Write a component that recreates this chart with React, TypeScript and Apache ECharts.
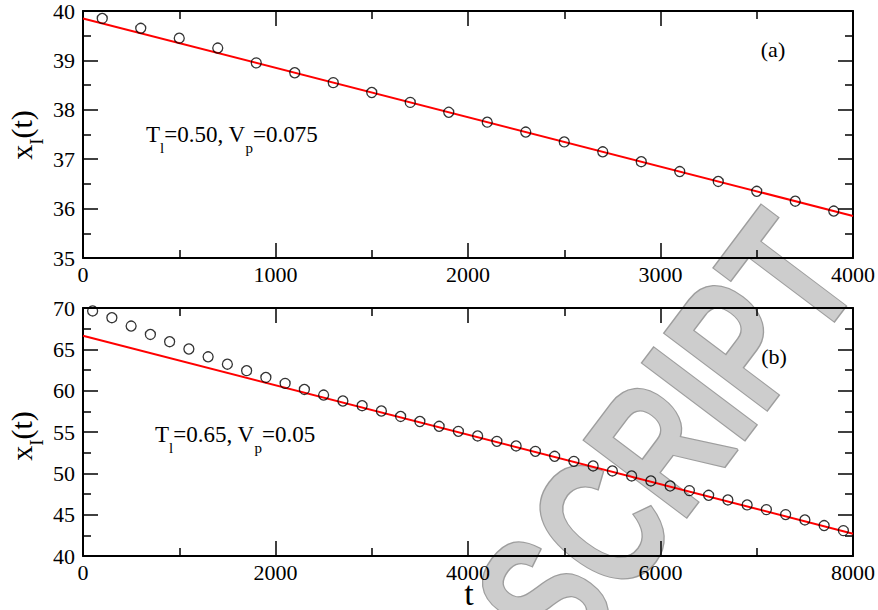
import React, { useEffect, useRef } from 'react';
import * as echarts from 'echarts';

// Panel (a): T_l = 0.50, V_p = 0.075
const timesA = [100, 300, 500, 700, 900, 1100, 1300, 1500, 1700, 1900, 2100, 2300, 2500, 2700, 2900, 3100, 3300, 3500, 3700, 3900];
const valuesA = [39.85, 39.65, 39.45, 39.25, 38.95, 38.75, 38.55, 38.35, 38.15, 37.95, 37.75, 37.55, 37.35, 37.15, 36.95, 36.75, 36.55, 36.35, 36.15, 35.95];
const fitTimesA = [0, 4000];
const fitValuesA = [39.85, 35.85];

// Panel (b): T_l = 0.65, V_p = 0.05
const timesB = [100, 300, 500, 700, 900, 1100, 1300, 1500, 1700, 1900, 2100, 2300, 2500, 2700, 2900, 3100, 3300, 3500, 3700, 3900,
  4100, 4300, 4500, 4700, 4900, 5100, 5300, 5500, 5700, 5900, 6100, 6300, 6500, 6700, 6900, 7100, 7300, 7500, 7700, 7900];
const valuesB = [69.64, 68.83, 67.82, 66.8, 65.92, 65.04, 64.1, 63.2, 62.42, 61.6, 60.88, 60.15, 59.47, 58.75, 58.18, 57.54, 56.88, 56.27, 55.69, 55.08,
  54.52, 53.87, 53.31, 52.66, 52.06, 51.45, 50.89, 50.29, 49.68, 49.08, 48.47, 47.91, 47.34, 46.78, 46.18, 45.61, 45.01, 44.36, 43.68, 43.07];
const fitTimesB = [0, 8000];
const fitValuesB = [66.65, 42.7];

const labelA = ['T', 'l', '=0.50, V', 'p', '=0.075'];
const labelB = ['T', 'l', '=0.65, V', 'p', '=0.05'];

const BLACK = '#000';
const FONT = "'Liberation Serif', 'Times New Roman', serif";

function xAxis(grid: number, max: number, interval: number, position: string, labels: boolean) {
  return {
    type: 'value', gridIndex: grid, min: 0, max, interval, position,
    axisLine: { show: true, onZero: false, lineStyle: { color: BLACK, width: 2 } },
    axisTick: { show: true, inside: true, length: 15, lineStyle: { color: BLACK, width: 1.5 } },
    minorTick: { show: true, splitNumber: 2, length: 8, lineStyle: { color: BLACK, width: 1.5 } },
    splitLine: { show: false }, minorSplitLine: { show: false },
    axisLabel: {
      show: labels, color: BLACK, fontFamily: FONT, fontSize: 22, lineHeight: 20, margin: 6, showMinLabel: true, showMaxLabel: true,
      formatter: (v: number) => String(v),
    },
  };
}
function yAxis(grid: number, min: number, max: number, interval: number, position: string, labels: boolean) {
  return {
    type: 'value', gridIndex: grid, min, max, interval, position,
    axisLine: { show: true, onZero: false, lineStyle: { color: BLACK, width: 2 } },
    axisTick: { show: true, inside: true, length: 15, lineStyle: { color: BLACK, width: 1.5 } },
    minorTick: { show: true, splitNumber: 2, length: 8, lineStyle: { color: BLACK, width: 1.5 } },
    splitLine: { show: false }, minorSplitLine: { show: false },
    axisLabel: {
      show: labels, color: BLACK, fontFamily: FONT, fontSize: 22, margin: 8, showMinLabel: true, showMaxLabel: true,
      formatter: (v: number) => String(v),
    },
  };
}

const richMain = { fontFamily: FONT, fontSize: 23, lineHeight: 27, padding: [0, 0, 14, 0], color: BLACK };
const richSub = { fontFamily: FONT, fontSize: 15, lineHeight: 15, padding: [19, 0, 7, 0], color: BLACK };
function annot(parts: string[]) {
  return `{a|${parts[0]}}{s|${parts[1]}}{a|${parts[2]}}{s|${parts[3]}}{a|${parts[4]}}`;
}

const yTitleRich = {
  a: { fontFamily: FONT, fontSize: 30, lineHeight: 34, padding: [0, 0, 16, 0], color: BLACK },
  s: { fontFamily: FONT, fontSize: 19, lineHeight: 19, padding: [23, 0, 8, 0], color: BLACK },
};

export default function App() {
  const ref = useRef<HTMLDivElement>(null);
  useEffect(() => {
    if (!ref.current) return;
    const chart = echarts.init(ref.current, undefined, { renderer: 'svg' });
    const option = {
      animation: false,
      backgroundColor: '#fff',
      grid: [
        { left: 83, top: 11, width: 773, height: 247 },
        { left: 83, top: 308, width: 773, height: 248 },
      ],
      xAxis: [
        xAxis(0, 4000, 1000, 'bottom', true),
        xAxis(0, 4000, 1000, 'top', false),
        xAxis(1, 8000, 2000, 'bottom', true),
        xAxis(1, 8000, 2000, 'top', false),
      ],
      yAxis: [
        yAxis(0, 35, 40, 1, 'left', true),
        yAxis(0, 35, 40, 1, 'right', false),
        yAxis(1, 40, 70, 5, 'left', true),
        yAxis(1, 40, 70, 5, 'right', false),
      ],
      series: [
        {
          type: 'line', xAxisIndex: 0, yAxisIndex: 0, showSymbol: false, z: 3,
          data: fitTimesA.map((t, i) => [t, fitValuesA[i]]),
          lineStyle: { color: '#ff0000', width: 2 },
        },
        {
          type: 'scatter', xAxisIndex: 0, yAxisIndex: 0, symbol: 'circle', symbolSize: 10, z: 4,
          data: timesA.map((t, i) => [t, valuesA[i]]),
          itemStyle: { color: 'rgba(0,0,0,0)', borderColor: BLACK, borderWidth: 1.3 },
        },
        {
          type: 'line', xAxisIndex: 2, yAxisIndex: 2, showSymbol: false, z: 3,
          data: fitTimesB.map((t, i) => [t, fitValuesB[i]]),
          lineStyle: { color: '#ff0000', width: 2 },
        },
        {
          type: 'scatter', xAxisIndex: 2, yAxisIndex: 2, symbol: 'circle', symbolSize: 10, z: 4,
          data: timesB.map((t, i) => [t, valuesB[i]]),
          itemStyle: { color: 'rgba(0,0,0,0)', borderColor: BLACK, borderWidth: 1.3 },
        },
      ],
      graphic: [
        {
          type: 'text', x: 665, y: 438, rotation: 53 * Math.PI / 180, scaleX: 0.72, z: -10,
          style: {
            text: 'SCRIPT', fontFamily: "'Liberation Sans', Arial, sans-serif", fontWeight: 'bold', fontSize: 186,
            fill: '#cdcdcd', stroke: '#9e9e9e', lineWidth: 3, align: 'center', verticalAlign: 'middle',
          },
        },
        {
          type: 'text', x: 146, y: 128, z: 10,
          style: { text: annot(labelA), rich: { a: richMain, s: richSub }, align: 'left', verticalAlign: 'top' },
        },
        {
          type: 'text', x: 155, y: 428, z: 10,
          style: { text: annot(labelB), rich: { a: richMain, s: richSub }, align: 'left', verticalAlign: 'top' },
        },
        {
          type: 'text', x: 773, y: 49, z: 10,
          style: { text: '(a)', fontFamily: FONT, fontSize: 22, fill: BLACK, align: 'center', verticalAlign: 'middle' },
        },
        {
          type: 'text', x: 774, y: 356, z: 10,
          style: { text: '(b)', fontFamily: FONT, fontSize: 22, fill: BLACK, align: 'center', verticalAlign: 'middle' },
        },
        {
          type: 'text', x: 29, y: 135, rotation: Math.PI / 2, z: 10,
          style: { text: '{a|x}{s|I}{a|(t)}', rich: yTitleRich, align: 'center', verticalAlign: 'middle' },
        },
        {
          type: 'text', x: 29, y: 436, rotation: Math.PI / 2, z: 10,
          style: { text: '{a|x}{s|I}{a|(t)}', rich: yTitleRich, align: 'center', verticalAlign: 'middle' },
        },
        {
          type: 'text', x: 469, y: 593, z: 10,
          style: { text: 't', fontFamily: FONT, fontSize: 34, lineHeight: 24, fill: BLACK, align: 'center', verticalAlign: 'middle' },
        },
      ],
    };
    chart.setOption(option as any);
    return () => chart.dispose();
  }, []);
  return <div ref={ref} style={{ width: 878, height: 610, position: 'absolute', left: 0, top: 0 }} />;
}
